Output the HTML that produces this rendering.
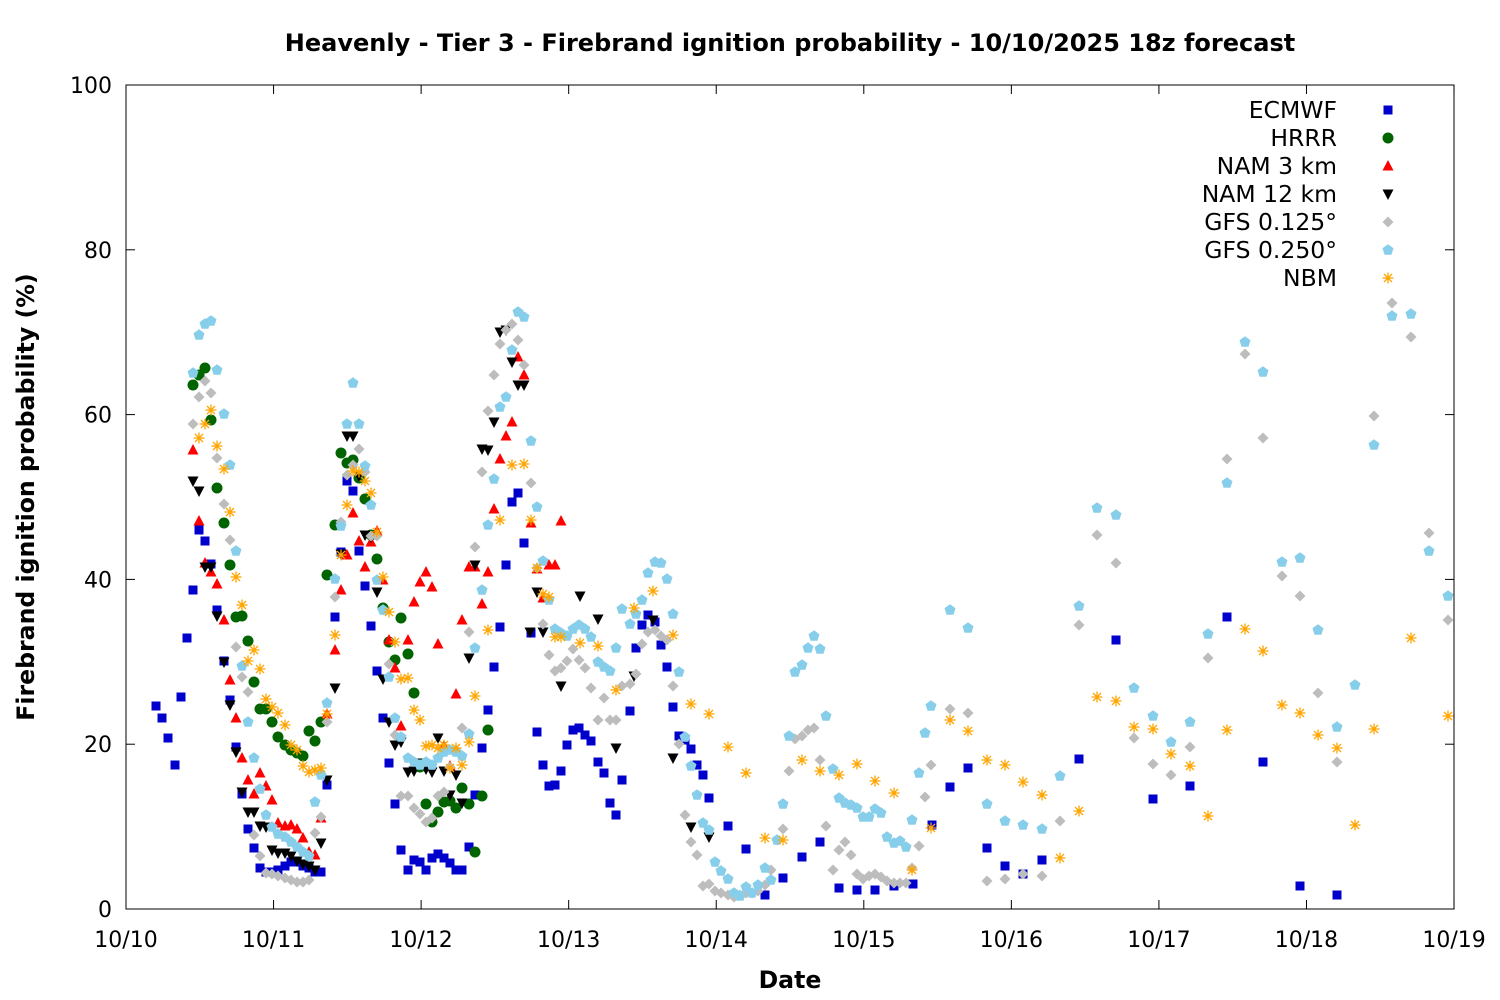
<!DOCTYPE html>
<html><head><meta charset="utf-8"><style>
html,body{margin:0;padding:0;background:#fff;}
svg{display:block;font-family:"DejaVu Sans","Liberation Sans",sans-serif;}
</style></head><body>
<svg id="s" width="1500" height="1000" viewBox="0 0 1500 1000" xmlns="http://www.w3.org/2000/svg">
<rect width="1500" height="1000" fill="#fff"/>
<text x="790" y="51" text-anchor="middle" font-size="24" font-weight="bold">Heavenly - Tier 3 - Firebrand ignition probability - 10/10/2025 18z forecast</text>
<rect x="126" y="85" width="1328" height="824" fill="none" stroke="#000" stroke-width="1"/>
<g id="ticks" stroke="#000" stroke-width="1"></g>
<g id="lab" font-size="22"></g>
<text x="790" y="988" text-anchor="middle" font-size="23.6" font-weight="bold">Date</text>
<text transform="translate(34,497) rotate(-90)" text-anchor="middle" font-size="23.6" font-weight="bold">Firebrand ignition probability (%)</text>
<g id="pts"></g>
<g id="leg" font-size="23.5"></g>
</svg>
<script>
var NS="http://www.w3.org/2000/svg";
function el(p,t,a,txt){var e=document.createElementNS(NS,t);for(var k in a)e.setAttribute(k,a[k]);if(txt!==undefined)e.textContent=txt;p.appendChild(e);return e;}
var tk=document.getElementById('ticks'),lb=document.getElementById('lab');
for(var i=0;i<=5;i++){var y=909-i*164.8;
el(tk,'line',{x1:126,x2:135,y1:y,y2:y});el(tk,'line',{x1:1445,x2:1454,y1:y,y2:y});
el(lb,'text',{x:112,y:y+8,'text-anchor':'end'},String(i*20));}
for(var d=0;d<=9;d++){var x=126+d*147.56;
el(tk,'line',{x1:x,x2:x,y1:909,y2:900});el(tk,'line',{x1:x,x2:x,y1:85,y2:94});
el(lb,'text',{x:x,y:947,'text-anchor':'middle'},'10/'+(10+d));}
function mk(g,type,x,y,c){
 if(type=='sq')el(g,'rect',{x:x-4.5,y:y-4.5,width:9,height:9,fill:c});
 else if(type=='ci')el(g,'circle',{cx:x,cy:y,r:5.5,fill:c});
 else if(type=='up')el(g,'polygon',{points:(x)+','+(y-6)+' '+(x-5.5)+','+(y+4.5)+' '+(x+5.5)+','+(y+4.5),fill:c});
 else if(type=='dn')el(g,'polygon',{points:(x)+','+(y+6)+' '+(x-5.5)+','+(y-4.5)+' '+(x+5.5)+','+(y-4.5),fill:c});
 else if(type=='di')el(g,'polygon',{points:x+','+(y-5.5)+' '+(x+5.5)+','+y+' '+x+','+(y+5.5)+' '+(x-5.5)+','+y,fill:c});
 else if(type=='pe'){var p=[];for(var k=0;k<5;k++){var a=-Math.PI/2+k*2*Math.PI/5;p.push((x+5.8*Math.cos(a))+','+(y+5.8*Math.sin(a)));}el(g,'polygon',{points:p.join(' '),fill:c});}
 else if(type=='as'){var s=5.5;el(g,'path',{d:'M'+(x-s)+' '+y+'H'+(x+s)+'M'+x+' '+(y-s)+'V'+(y+s)+'M'+(x-4)+' '+(y-4)+'L'+(x+4)+' '+(y+4)+'M'+(x-4)+' '+(y+4)+'L'+(x+4)+' '+(y-4),stroke:c,'stroke-width':1.3,fill:'none'});}
}
function P(s){var a=s.match(/-?\d+/g).map(Number),r=[];for(var i=0;i<a.length;i+=2)r.push([a[i],a[i+1]]);return r;}
var S=[
['sq','#0000cc',"(156,706),(162,718),(168,738),(175,765),(181,697),(187,638),(193,590),(199,530),(205,541),(211,564),(217,610),(224,661),(230,700),(236,747),(242,794),(248,829),(254,848),(260,868),(266,872),(272,872),(278,870),(285,866),(291,862),(297,862),(303,866),(309,868),(315,872),(321,872),(327,785),(335,617),(341,552),(347,481),(353,491),(359,551),(365,586),(371,626),(377,671),(383,718),(389,763),(395,804),(401,850),(408,870),(414,860),(420,862),(426,870),(432,858),(438,854),(444,858),(450,863),(456,870),(462,870),(469,847),(475,795),(482,748),(488,710),(494,667),(500,627),(506,565),(512,502),(518,493),(524,543),(531,633),(537,732),(543,765),(549,786),(555,785),(561,771),(567,745),(573,730),(579,728),(585,735),(591,741),(598,762),(604,773),(610,803),(616,815),(622,780),(630,711),(636,648),(642,625),(648,615),(655,622),(661,645),(667,667),(673,707),(679,736),(685,740),(691,749),(697,765),(703,775),(709,798),(728,826),(746,849),(765,895),(783,878),(802,857),(820,842),(839,888),(857,890),(875,890),(894,886),(913,884),(932,825),(950,787),(968,768),(987,848),(1005,866),(1023,874),(1042,860),(1079,759),(1116,640),(1153,799),(1190,786),(1227,617),(1263,762),(1300,886),(1337,895)"],
['ci','#006400',"(193,385),(199,375),(205,368),(211,420),(217,488),(224,523),(230,565),(236,617),(242,616),(248,641),(254,682),(260,709),(266,709),(272,722),(278,737),(285,745),(291,750),(297,753),(303,756),(309,731),(315,741),(321,722),(327,575),(335,525),(341,453),(347,463),(353,460),(359,478),(365,499),(371,535),(377,559),(383,608),(389,642),(395,660),(401,618),(408,654),(414,693),(420,767),(426,804),(432,822),(438,812),(444,802),(450,801),(456,808),(462,788),(469,804),(475,852),(482,796),(488,730)"],
['up','#ff0000',"(193,450),(199,521),(205,563),(211,572),(217,584),(224,620),(230,680),(236,718),(242,758),(248,780),(254,794),(260,773),(266,786),(272,800),(278,823),(285,826),(291,825),(297,829),(303,838),(309,852),(315,855),(321,818),(327,714),(335,650),(341,590),(347,555),(353,513),(359,541),(365,567),(371,542),(377,531),(383,580),(389,640),(395,668),(401,726),(408,640),(414,602),(420,582),(426,572),(432,587),(438,644),(444,746),(450,766),(456,694),(462,620),(469,567),(475,567),(482,604),(488,572),(494,509),(500,459),(506,436),(512,422),(518,357),(524,375),(531,523),(537,569),(543,598),(549,565),(555,565),(561,521)"],
['dn','#000000',"(193,481),(199,491),(205,567),(211,567),(217,616),(224,662),(230,705),(236,752),(242,792),(248,812),(254,812),(260,826),(266,827),(272,850),(278,853),(285,853),(291,856),(297,861),(303,864),(309,866),(315,870),(321,843),(327,780),(335,688),(341,554),(347,436),(353,436),(359,476),(365,535),(371,537),(377,592),(383,679),(389,722),(395,745),(401,742),(408,772),(414,771),(420,763),(426,769),(432,772),(438,738),(444,771),(450,795),(456,775),(462,803),(469,658),(475,565),(482,449),(488,450),(494,422),(500,332),(506,330),(512,362),(518,385),(524,385),(530,632),(537,592),(543,632),(561,686),(580,596),(598,619),(616,748),(634,676),(653,620),(673,758),(691,827),(709,837)"],
['di','#bdbdbd',"(193,424),(199,397),(205,381),(211,393),(217,458),(224,504),(230,540),(236,647),(242,677),(248,692),(254,835),(260,856),(266,873),(272,874),(278,876),(285,878),(291,880),(297,882),(303,882),(309,880),(315,833),(321,817),(327,722),(335,597),(341,522),(347,475),(353,465),(359,449),(365,472),(371,536),(377,536),(383,610),(389,664),(395,735),(401,796),(408,796),(414,808),(420,814),(426,822),(432,818),(438,796),(444,792),(450,767),(456,750),(462,728),(469,632),(475,547),(482,472),(488,411),(494,375),(500,344),(506,330),(512,324),(518,340),(524,365),(531,483),(537,568),(543,624),(549,655),(555,671),(561,668),(567,661),(573,649),(579,660),(585,668),(591,688),(598,720),(604,698),(610,720),(616,720),(622,686),(630,684),(636,674),(642,644),(648,632),(655,630),(661,636),(667,640),(673,686),(679,744),(685,815),(691,842),(697,855),(703,886),(709,884),(715,891),(721,893),(728,895),(734,897),(740,895),(746,893),(752,893),(758,891),(765,885),(771,870),(777,840),(783,829),(789,771),(795,739),(802,736),(808,730),(814,728),(820,760),(826,826),(833,870),(839,850),(845,842),(851,855),(857,874),(863,879),(869,876),(875,874),(881,877),(887,881),(894,883),(900,883),(906,883),(912,868),(919,846),(925,797),(931,765),(950,709),(968,713),(987,881),(1005,879),(1023,874),(1042,876),(1060,821),(1079,625),(1097,535),(1116,563),(1134,738),(1153,764),(1171,775),(1190,747),(1208,658),(1227,459),(1245,354),(1263,438),(1282,576),(1300,596),(1318,693),(1337,762),(1374,416),(1392,303),(1411,337),(1429,533),(1448,620)"],
['pe','#87ceeb',"(193,373),(199,335),(205,324),(211,321),(217,370),(224,414),(230,465),(236,551),(242,666),(248,722),(254,758),(260,789),(266,815),(272,827),(278,834),(285,837),(291,842),(297,847),(303,852),(309,856),(315,802),(321,775),(327,703),(335,579),(341,526),(347,424),(353,383),(359,424),(365,466),(371,505),(377,580),(383,610),(389,677),(395,718),(401,737),(408,758),(414,762),(420,765),(426,762),(432,765),(438,758),(444,752),(450,750),(456,752),(462,756),(469,734),(475,648),(482,590),(488,525),(494,479),(500,407),(506,397),(512,350),(518,312),(524,317),(531,441),(537,507),(543,561),(549,600),(555,629),(561,633),(567,636),(573,629),(579,625),(585,629),(591,637),(598,662),(604,667),(610,671),(616,648),(622,609),(630,624),(636,614),(642,600),(648,573),(655,562),(661,563),(667,579),(673,614),(679,672),(685,737),(691,766),(697,795),(703,823),(709,830),(715,862),(721,871),(728,879),(734,893),(740,896),(746,887),(752,893),(758,885),(765,868),(771,880),(777,840),(783,804),(789,736),(795,672),(802,665),(808,648),(814,636),(820,649),(826,716),(833,769),(839,798),(845,803),(851,805),(857,808),(863,817),(869,817),(875,809),(881,813),(887,837),(894,843),(900,841),(906,847),(912,820),(919,773),(925,733),(931,706),(950,610),(968,628),(987,804),(1005,821),(1023,825),(1042,829),(1060,776),(1079,606),(1097,508),(1116,515),(1134,688),(1153,716),(1171,742),(1190,722),(1208,634),(1227,483),(1245,342),(1263,372),(1282,562),(1300,558),(1318,630),(1337,727),(1355,685),(1374,445),(1392,316),(1411,314),(1429,551),(1448,596)"],
['as','#ffa500',"(199,438),(205,424),(211,410),(217,446),(224,469),(230,512),(236,577),(242,605),(248,661),(254,650),(260,669),(266,699),(272,707),(278,713),(285,725),(291,745),(297,750),(303,766),(309,772),(315,770),(321,768),(327,714),(335,635),(341,555),(347,505),(353,471),(359,472),(365,481),(371,493),(377,532),(383,577),(389,612),(395,642),(401,679),(408,678),(414,710),(420,720),(426,746),(432,745),(438,748),(444,745),(450,768),(456,748),(462,765),(469,742),(475,696),(488,630),(500,520),(512,465),(524,464),(531,520),(537,568),(543,594),(549,597),(555,637),(561,637),(580,643),(598,646),(616,690),(634,608),(653,591),(673,635),(691,704),(709,714),(728,747),(746,773),(765,838),(783,840),(802,760),(820,771),(839,775),(857,764),(875,781),(894,793),(912,870),(931,828),(950,720),(968,731),(987,760),(1005,765),(1023,782),(1042,795),(1060,858),(1079,811),(1097,697),(1116,701),(1134,727),(1153,729),(1171,754),(1190,766),(1208,816),(1227,730),(1245,629),(1263,651),(1282,705),(1300,713),(1318,735),(1337,748),(1355,825),(1374,729),(1411,638),(1448,716)"]
];
var g=document.getElementById('pts');
S.forEach(function(s){P(s[2]).forEach(function(p){mk(g,s[0],p[0],p[1],s[1]);});});
var names=['ECMWF','HRRR','NAM 3 km','NAM 12 km','GFS 0.125°','GFS 0.250°','NBM'];
var lg=document.getElementById('leg');
names.forEach(function(n,i){var y=110+i*28;el(lg,'text',{x:1337,y:y+8,'text-anchor':'end'},n);mk(lg,S[i][0],1388,y,S[i][1]);});
</script>
</body></html>
